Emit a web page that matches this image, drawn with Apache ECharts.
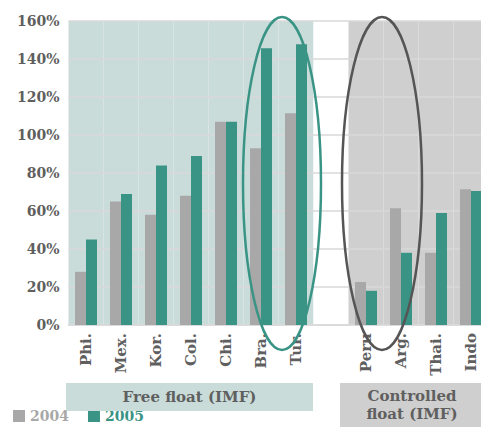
<!DOCTYPE html>
<html><head><meta charset="utf-8">
<script src="https://cdn.jsdelivr.net/npm/echarts@6/dist/echarts.min.js"></script>
<style>html,body{margin:0;padding:0;background:#fff;overflow:hidden}#c{width:481px;height:427px}</style>
</head><body><div id="c"></div>
<script>
const categories = ['Phi.','Mex.','Kor.','Col.','Chi.','Bra.','Tur.','','Peru','Arg.','Thai.','Indo'];
const values2004 = [28, 65, 58, 68, 107, 93, 111.5, null, 22.6, 61.5, 38, 71.5];
const values2005 = [45, 69, 84, 89, 107, 145.6, 147.7, null, 18, 38, 59, 70.5];
const groups = ['free','free','free','free','free','free','free','none','ctrl','ctrl','ctrl','ctrl'];
const yTicks = [0, 20, 40, 60, 80, 100, 120, 140, 160];
const groupLabels = ['Free float (IMF)', 'Controlled\nfloat (IMF)'];

const FONT = 'DejaVu Serif';
const TXT = '#5f5f5f';
const GRAY = '#a8a8a8';
const TEAL = '#3a9485';
const bgColors = {free: '#cadcda', ctrl: '#cfcfcf', none: '#ffffff'};
const yMax = yTicks[yTicks.length - 1];

const chart = echarts.init(document.getElementById('c'), null, {renderer: 'svg'});
chart.setOption({
  animation: false,
  backgroundColor: '#fff',
  grid: {left: 68.5, top: 21, width: 420, bottom: 102, containLabel: false, outerBoundsMode: 'none'},
  xAxis: [{
    type: 'category', data: categories,
    axisTick: {show: false},
    axisLine: {lineStyle: {color: '#d9d9d9', width: 1.5}},
    axisLabel: {rotate: 90, margin: 8, fontFamily: FONT, fontSize: 15, fontWeight: 'bold', color: TXT, interval: 0}
  }, {
    type: 'category', data: categories, show: false
  }],
  yAxis: {
    type: 'value', min: 0, max: yMax, interval: yTicks[1] - yTicks[0],
    axisLine: {show: false}, axisTick: {show: false},
    axisLabel: {formatter: '{value}%', fontFamily: FONT, fontSize: 14, fontWeight: 'bold', color: TXT, margin: 9},
    splitLine: {lineStyle: {color: '#d9d9d9', width: 1.5}}
  },
  legend: {
    left: 13, top: 409, itemWidth: 12, itemHeight: 12, itemGap: 19, icon: 'rect', padding: 0,
    textStyle: {fontFamily: FONT, fontSize: 14, fontWeight: 'bold', lineHeight: 14},
    data: [{name: '2004', textStyle: {color: GRAY}}, {name: '2005', textStyle: {color: TEAL}}]
  },
  series: [{
    type: 'bar', xAxisIndex: 1, z: -1, barWidth: '100%', silent: true,
    data: groups.map(g => ({value: yMax, itemStyle: {color: bgColors[g]}}))
  }, {
    name: '2004', type: 'bar', data: values2004, itemStyle: {color: GRAY},
    barWidth: 11, barGap: '0%'
  }, {
    name: '2005', type: 'bar', data: values2005, itemStyle: {color: TEAL},
    barWidth: 11, barGap: '0%'
  }],
  graphic: [
    {type: 'ellipse', z: 100, shape: {cx: 282, cy: 183.5, rx: 39, ry: 166.5},
     style: {fill: 'none', stroke: TEAL, lineWidth: 2.5}},
    {type: 'ellipse', z: 100, shape: {cx: 382, cy: 183.5, rx: 40, ry: 166.5},
     style: {fill: 'none', stroke: '#555555', lineWidth: 2.5}},
    {type: 'rect', z: 5, shape: {x: 66, y: 383, width: 247, height: 28}, style: {fill: bgColors.free}},
    {type: 'text', z: 6, x: 189.5, y: 397,
     style: {text: groupLabels[0], font: 'bold 15px "DejaVu Serif"', fill: TXT, align: 'center', verticalAlign: 'middle'}},
    {type: 'rect', z: 5, shape: {x: 340, y: 383, width: 145, height: 50}, style: {fill: bgColors.ctrl}},
    {type: 'text', z: 6, x: 412, y: 405,
     style: {text: groupLabels[1], font: 'bold 15px "DejaVu Serif"', fill: TXT, align: 'center', verticalAlign: 'middle', lineHeight: 18}}
  ]
});
</script></body></html>
